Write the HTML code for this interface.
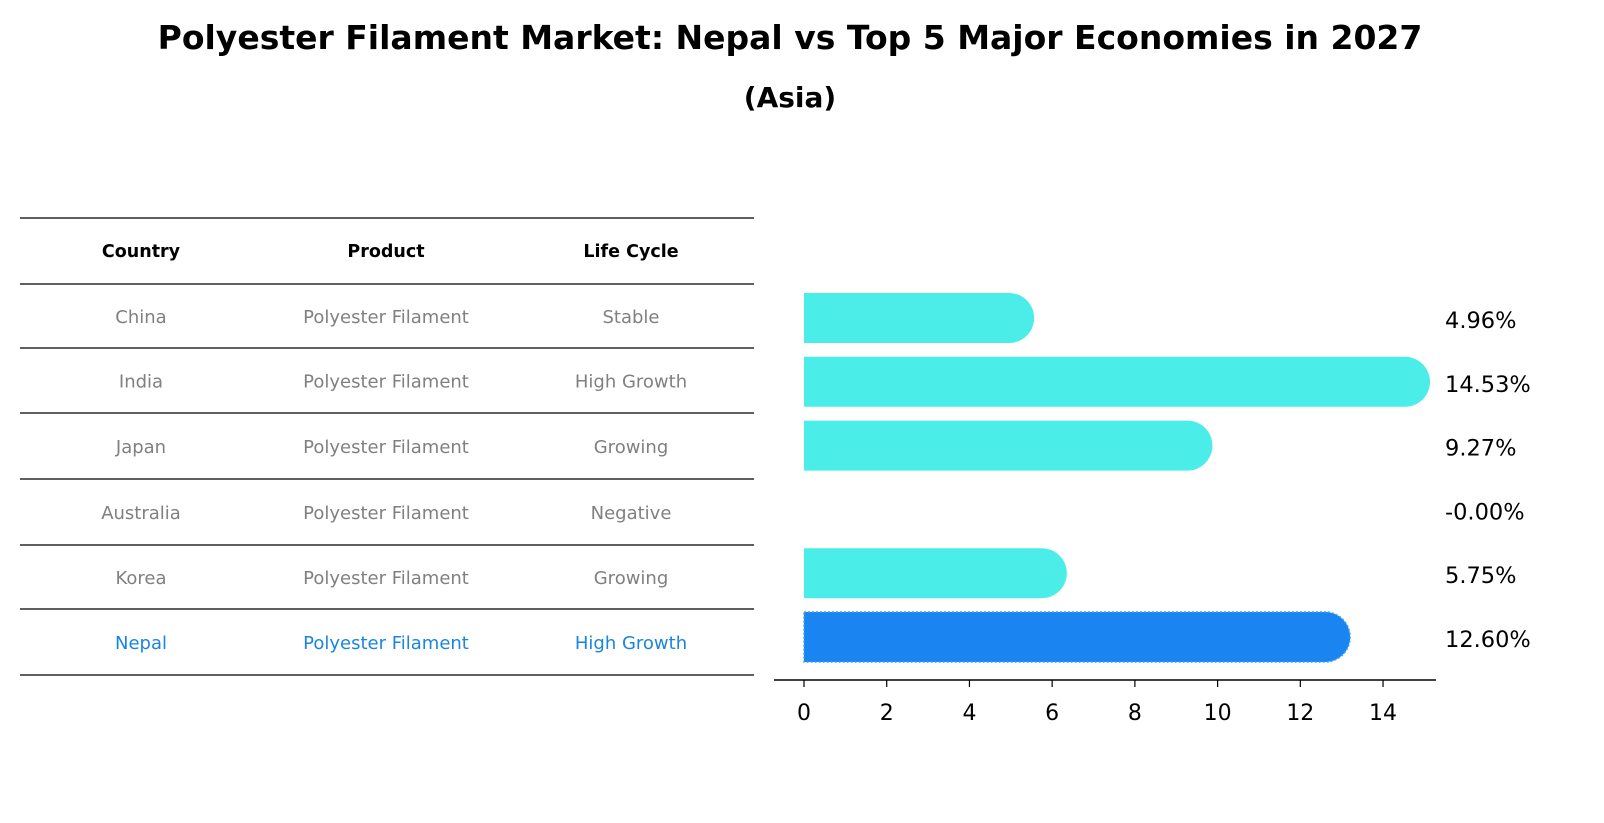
<!DOCTYPE html>
<html><head><meta charset="utf-8"><style>
html,body{margin:0;padding:0;background:#fff;overflow:hidden;width:1604px;height:823px;}
svg{display:block;}
svg text{font-family:"DejaVu Sans","Liberation Sans",sans-serif;}
</style></head><body>
<svg id="chart" width="1604" height="823" viewBox="0 0 1604 823" xmlns="http://www.w3.org/2000/svg">
<text x="790" y="49" text-anchor="middle" font-size="33" font-weight="bold">Polyester Filament Market: Nepal vs Top 5 Major Economies in 2027</text>
<text x="790" y="107" text-anchor="middle" font-size="28" font-weight="bold">(Asia)</text>
<g id="table"></g>
<g id="bars"></g>
</svg>
<script>
const countries=["China","India","Japan","Australia","Korea","Nepal"];
const products=["Polyester Filament","Polyester Filament","Polyester Filament","Polyester Filament","Polyester Filament","Polyester Filament"];
const lifeCycles=["Stable","High Growth","Growing","Negative","Growing","High Growth"];
const values=[4.96,14.53,9.27,0,5.75,12.60];
const valueLabels=["4.96%","14.53%","9.27%","-0.00%","5.75%","12.60%"];
const ticks=[0,2,4,6,8,10,12,14];
const NS="http://www.w3.org/2000/svg";
function mk(tag,attrs,parent){const e=document.createElementNS(NS,tag);for(const k in attrs)e.setAttribute(k,attrs[k]);parent.appendChild(e);return e;}
const tbl=document.getElementById('table');
const lineYs=[218,284,348,413,479,545,609,675];
lineYs.forEach((y,i)=>{const l=mk('line',{x1:20,x2:754,y1:y,y2:y,stroke:'#000','stroke-width':1.2},tbl);

});
const colX=[141,386,631];
["Country","Product","Life Cycle"].forEach((h,i)=>{const t=mk('text',{x:colX[i],y:257,'text-anchor':'middle','font-size':17.5,'font-weight':'bold'},tbl);t.textContent=h;

});
countries.forEach((c,r)=>{const y=(lineYs[r+1]+lineYs[r+2])/2+7;const col=c==="Nepal"?'#1a85e0':'#808080';
[c,products[r],lifeCycles[r]].forEach((v,i)=>{const t=mk('text',{x:colX[i],y:y,'text-anchor':'middle','font-size':18,fill:col},tbl);t.textContent=v;

});});
const bars=document.getElementById('bars');
const x0=804,scale=41.36;const xs=v=>x0+v*scale;
const rowY=r=>318+r*63.8;const bh=50,rad=25;
values.forEach((v,r)=>{if(v<=0)return;const cy=rowY(r);const xe=xs(v);const isN=countries[r]==="Nepal";
const p=mk('path',{d:`M${x0},${cy-bh/2} H${xe} A${rad},${rad} 0 0 1 ${xe},${cy+bh/2} H${x0} Z`,fill:isN?'#1a85f0':'#4bede8'},bars);
if(isN){p.setAttribute('stroke','#3aa0f5');p.setAttribute('stroke-dasharray','2,2');p.setAttribute('stroke-width','1.5');}

});
valueLabels.forEach((s,r)=>{const t=mk('text',{x:1445,y:rowY(r)+10,'font-size':22.5},bars);t.textContent=s;

});
const ax=mk('line',{x1:774,x2:1436,y1:680,y2:680,stroke:'#000','stroke-width':1.5},bars);


ticks.forEach(v=>{const tk=mk('line',{x1:xs(v),x2:xs(v),y1:680,y2:687,stroke:'#000','stroke-width':1.2},bars);


const t=mk('text',{x:xs(v),y:720,'text-anchor':'middle','font-size':22},bars);t.textContent=v;

});
</script>
</body></html>
